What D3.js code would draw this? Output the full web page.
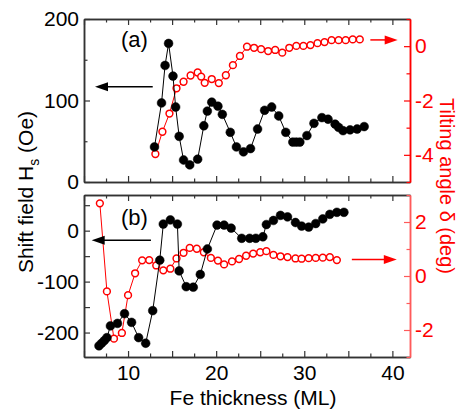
<!DOCTYPE html>
<html>
<head>
<meta charset="utf-8">
<script src="https://cdn.jsdelivr.net/npm/d3@7"></script>
<style>
  body { margin: 0; background: #fff; }
  svg { font-family: "Liberation Sans", Arial, sans-serif; }
</style>
</head>
<body>
<svg id="chart" width="458" height="414"></svg>
<script>
// panel (a): shift field (black, filled) and tilting angle (red, open)
var thickA = [13.0, 13.8, 14.2, 14.6, 15.1, 15.4, 15.8, 16.3, 17.0, 17.9, 18.6, 19.0, 19.5, 20.2, 20.7, 21.6, 22.3, 23.1, 23.9, 24.7, 25.5, 26.3, 27.1, 27.9, 28.7, 29.1, 29.5, 30.3, 31.1, 32.0, 32.7, 33.5, 33.9, 34.4, 35.2, 36.0, 36.8]
var hsA = [43, 97, 143, 170, 130, 92, 56, 27, 21, 28, 69, 87, 98, 93, 83, 61, 43, 37, 41, 65, 88, 92, 81, 61, 49, 49, 49, 57, 72, 79, 77, 71, 67, 63, 64, 65, 68]
var thickAr = [13.1, 13.9, 14.7, 15.5, 16.3, 17.1, 17.9, 18.3, 18.7, 19.5, 20.3, 21.1, 21.9, 22.7, 23.5, 24.3, 25.1, 25.9, 26.7, 27.5, 28.3, 29.1, 29.9, 30.7, 31.5, 32.3, 33.1, 33.9, 34.7, 35.5, 36.3]
var tiltA = [-3.97, -3.15, -2.48, -1.55, -1.31, -1.08, -0.97, -1.12, -1.35, -1.21, -1.36, -1.07, -0.70, -0.36, -0.02, -0.06, -0.11, -0.18, -0.14, -0.24, -0.06, 0.01, 0.01, 0.04, 0.11, 0.15, 0.22, 0.22, 0.22, 0.25, 0.25]

// panel (b)
var thickB = [6.7, 7.0, 7.3, 7.6, 8.0, 8.8, 9.6, 10.4, 11.2, 12.0, 12.8, 13.6, 14.0, 14.8, 15.6, 15.8, 16.6, 17.4, 18.2, 19.0, 20.1, 20.9, 21.7, 22.9, 23.8, 24.5, 25.3, 25.7, 26.5, 27.3, 28.1, 29.0, 29.7, 30.5, 31.3, 32.1, 32.9, 33.7, 34.5]
var hsB = [-226, -221, -216, -210, -187, -182, -163, -180, -210, -221, -157, -58, 13, 21, 13, -79, -110, -111, -86, -36, 11, 11, 5, -15, -15, -15, -12, 12, 20, 30, 27, 16, 9, 7, 14, 23, 32, 36, 36]
var thickBr = [6.8, 7.6, 8.4, 9.3, 10.0, 10.8, 11.6, 12.4, 13.2, 14.0, 14.8, 15.5, 16.3, 17.0, 17.8, 18.6, 19.4, 20.2, 20.9, 21.8, 22.6, 23.4, 24.2, 25.0, 25.7, 26.5, 27.3, 28.1, 29.0, 29.7, 30.5, 31.3, 32.1, 32.9, 33.7]
var tiltB = [2.69, -0.57, -2.32, -2.11, -0.71, 0.10, 0.58, 0.59, 0.39, 0.21, 0.27, 0.65, 0.86, 1.04, 1.01, 0.88, 0.67, 0.57, 0.43, 0.54, 0.63, 0.75, 0.83, 0.88, 0.92, 0.78, 0.73, 0.70, 0.65, 0.64, 0.66, 0.67, 0.68, 0.70, 0.59]

var xTickLabels = [10, 20, 30, 40]
var hsTicksA = [0, 100, 200]
var tiltTicksA = [0, -2, -4]
var hsTicksB = [0, -100, -200]
var tiltTicksB = [2, 0, -2]

var svg = d3.select("#chart")
var red = "#ff0000"

var x = d3.scaleLinear().domain([5, 42]).range([84, 410])
var yA = d3.scaleLinear().domain([0, 200]).range([182, 19])
var tA = d3.scaleLinear().domain([-5, 1]).range([182, 19])
var yB = d3.scaleLinear().domain([-248, 70]).range([357, 195])
var tB = d3.scaleLinear().domain([-3, 3]).range([357, 195])

function tickRange(a, b, step) {
    return d3.range(Math.ceil(a / step) * step, b + 1e-9, step)
}

function axisPair(gen, scale, major, minor, majLen, minLen, labels, pos, color) {
    var g = svg.append("g").attr("transform", pos)
    g.append("g").call(gen(scale).tickValues(minor).tickSize(-minLen).tickSizeOuter(0).tickFormat(""))
    g.append("g").call(gen(scale).tickValues(major).tickSize(-majLen).tickSizeOuter(0).tickPadding(5)
        .tickFormat(d => labels.indexOf(d) >= 0 ? String(d) : ""))
    g.selectAll("g").attr("font-size", 21).attr("font-family", "Liberation Sans, Arial, sans-serif")
    g.selectAll("path.domain").attr("stroke", color).attr("stroke-width", 1.5)
    g.selectAll(".tick line").attr("stroke", color).attr("stroke-width", 1.2)
    g.selectAll(".tick text").attr("fill", color)
    return g
}

function panel(yS, tS, yTop, yBot, hsMajor, hsMinor, hsLabels, tMajor, tMinor, tLabels, showX, rightColor) {
    var xd = x.domain()
    var xMajor = tickRange(xd[0], xd[1], 5)
    var xMinor = tickRange(xd[0], xd[1], 2.5).filter(d => d % 5 != 0)
    var bottom = axisPair(d3.axisBottom, x, xMajor, xMinor, 6, 3.5, showX ? xTickLabels : [], "translate(0," + yBot + ")", "#333")
    bottom.selectAll(".tick text").attr("dy", "0.85em").attr("fill", "#000")
    axisPair(d3.axisTop, x, xMajor, xMinor, 6, 3.5, [], "translate(0," + yTop + ")", "#333")
    var left = axisPair(d3.axisLeft, yS, hsMajor, hsMinor, 6, 3.5, hsLabels, "translate(" + x.range()[0] + ",0)", "#333")
    left.selectAll(".tick text").attr("fill", "#000")
    axisPair(d3.axisRight, tS, tMajor, tMinor, 6, 3.5, tLabels, "translate(" + x.range()[1] + ",0)", rightColor)
        .selectAll(".tick text").attr("fill", red)
}

panel(yA, tA, 19, 182, [0, 100, 200], [50, 150], hsTicksA, [0, -2, -4], [1, -1, -3, -5], tiltTicksA, false, red)
panel(yB, tB, 195, 357, [50, 0, -50, -100, -150, -200], [], hsTicksB, [2, 0, -2], [3, 1, -1, -3], tiltTicksB, true, "#ff5a5a")

function series(xs, ys, xS, yS, filled) {
    var pts = xs.map((d, i) => [d, ys[i]])
    var line = d3.line().x(d => xS(d[0])).y(d => yS(d[1]))
    svg.append("path")
        .attr("d", line(pts))
        .attr("fill", "none")
        .attr("stroke", filled ? "#000" : red)
        .attr("stroke-width", 1)
    svg.append("g").selectAll("circle")
        .data(pts)
        .enter()
        .append("circle")
        .attr("cx", d => xS(d[0]))
        .attr("cy", d => yS(d[1]))
        .attr("r", filled ? 4.4 : 3.4)
        .attr("fill", filled ? "#000" : "#fff")
        .attr("stroke", filled ? "#000" : red)
        .attr("stroke-width", filled ? 0.5 : 1.5)
}

series(thickAr, tiltA, x, tA, false)
series(thickA, hsA, x, yA, true)
series(thickBr, tiltB, x, tB, false)
series(thickB, hsB, x, yB, true)

// arrows telling which axis a series belongs to
function arrow(x0, x1, yv, yS, color) {
    var xa = x(x0), xb = x(x1), yy = yS(yv)
    var dir = xb > xa ? 1 : -1
    var head = 13
    svg.append("line")
        .attr("x1", xa).attr("x2", xb - dir * head + dir).attr("y1", yy).attr("y2", yy)
        .attr("stroke", color).attr("stroke-width", 1.5)
    svg.append("path")
        .attr("d", "M" + xb + "," + yy + "L" + (xb - dir * head) + "," + (yy - 4.5) + "L" + (xb - dir * head) + "," + (yy + 4.5) + "Z")
        .attr("fill", color)
}
arrow(12.8, 6.25, 117, yA, "#000")
arrow(37.5, 40.6, 0.23, tA, red)
arrow(12.6, 5.87, -18.6, yB, "#000")
arrow(35.4, 40.5, 0.61, tB, red)

svg.append("text").attr("x", x(9.2)).attr("y", yA(166)).style("font-size", "22px").text("(a)")
svg.append("text").attr("x", x(9.2)).attr("y", yB(12)).style("font-size", "22px").text("(b)")

svg.append("text")
    .attr("x", 253).attr("y", 405)
    .style("text-anchor", "middle")
    .style("font-size", "21px")
    .text("Fe thickness (ML)")

var ylab = svg.append("text")
    .attr("transform", "translate(33,192)rotate(-90)")
    .style("text-anchor", "middle")
    .style("font-size", "21px")
ylab.append("tspan").text("Shift field H")
ylab.append("tspan").attr("dy", 6).style("font-size", "14px").text("s")
ylab.append("tspan").attr("dy", -6).text(" (Oe)")

svg.append("text")
    .attr("transform", "translate(440,186)rotate(90)")
    .style("text-anchor", "middle")
    .style("font-size", "20px")
    .attr("fill", red)
    .text("Tilting angle δ (deg)")
</script>
</body>
</html>
